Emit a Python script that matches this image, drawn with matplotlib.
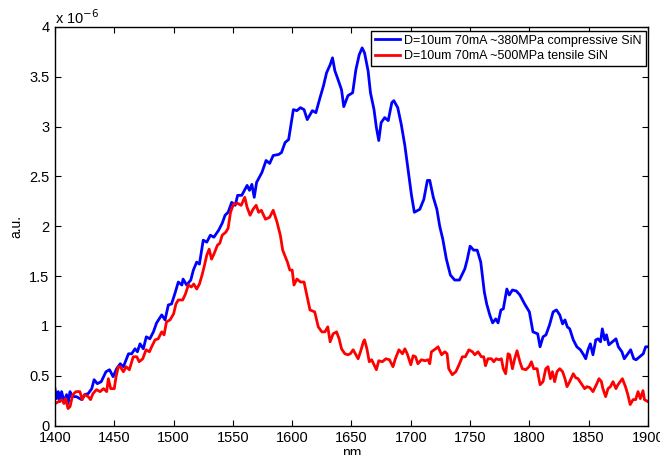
import matplotlib
matplotlib.use("Agg")
import matplotlib.pyplot as plt

plt.rcParams["font.family"] = ["Liberation Sans", "DejaVu Sans"]

# emission spectra, intensity in units of 1e-6 a.u.
wl_comp = [1400, 1401.4, 1402.8, 1404, 1405.6, 1407.6, 1409.8, 1411, 1412.7, 1414,
           1418, 1422.5, 1425, 1428, 1431, 1433, 1435.7, 1439, 1443, 1446,
           1449, 1452, 1455, 1457.7, 1462, 1464.7, 1467.5, 1469.5, 1471.7, 1474.5,
           1477, 1480, 1483, 1485.7, 1490, 1492.8, 1495.6, 1498.3, 1501, 1504,
           1507, 1508, 1511, 1514.5, 1516.7, 1519.5, 1521.8, 1525, 1528, 1531,
           1534, 1538, 1541, 1543.4, 1546, 1549, 1552, 1554, 1557.5, 1562,
           1564, 1566, 1568, 1570, 1574.5, 1578, 1581, 1584, 1588.6, 1591,
           1594, 1597, 1601, 1604, 1607, 1610, 1612.7, 1617, 1620, 1623,
           1626.4, 1629, 1632, 1634, 1636, 1639, 1641.6, 1643.5, 1647, 1651,
           1653.7, 1656.5, 1659, 1661, 1664, 1666, 1669, 1671, 1673, 1675,
           1678, 1681, 1684, 1685.7, 1689, 1692, 1695, 1698, 1700.6, 1703,
           1707.6, 1711, 1714, 1716, 1719, 1722, 1724.4, 1727, 1730, 1733.4,
           1737, 1741, 1745.5, 1747.5, 1750, 1753, 1756, 1759, 1762, 1764,
           1766.6, 1769, 1771.6, 1773.6, 1776, 1778, 1781, 1783, 1785.7, 1789,
           1792, 1796, 1800, 1803, 1807, 1809, 1811.5, 1814, 1817, 1820,
           1822.8, 1825.6, 1828, 1830, 1832, 1834, 1837, 1840, 1843, 1845.7,
           1847.5, 1849.4, 1851.4, 1853.6, 1856, 1858, 1860, 1861.5, 1863.5, 1865,
           1867, 1870, 1873, 1875, 1878, 1880, 1883, 1885.4, 1888, 1890,
           1893, 1896, 1898, 1900]
au_comp = [0.37, 0.27, 0.34, 0.24, 0.34, 0.24, 0.31, 0.22, 0.34, 0.29,
           0.29, 0.26, 0.31, 0.32, 0.37, 0.46, 0.42, 0.44, 0.54, 0.56,
           0.49, 0.57, 0.62, 0.59, 0.72, 0.72, 0.77, 0.74, 0.82, 0.77,
           0.89, 0.87, 0.94, 1.03, 1.11, 1.06, 1.21, 1.22, 1.32, 1.44,
           1.41, 1.47, 1.41, 1.46, 1.56, 1.64, 1.62, 1.86, 1.84, 1.91,
           1.89, 1.96, 2.03, 2.11, 2.14, 2.24, 2.21, 2.31, 2.31, 2.41,
           2.36, 2.42, 2.29, 2.44, 2.54, 2.66, 2.63, 2.71, 2.72, 2.74,
           2.84, 2.87, 3.17, 3.16, 3.19, 3.17, 3.07, 3.16, 3.14, 3.27,
           3.41, 3.54, 3.62, 3.69, 3.56, 3.46, 3.37, 3.20, 3.31, 3.34,
           3.57, 3.72, 3.79, 3.74, 3.56, 3.34, 3.17, 2.99, 2.86, 3.04,
           3.09, 3.06, 3.24, 3.26, 3.19, 3.02, 2.81, 2.54, 2.31, 2.14,
           2.17, 2.27, 2.46, 2.46, 2.29, 2.17, 2.00, 1.87, 1.67, 1.51,
           1.46, 1.46, 1.57, 1.66, 1.80, 1.76, 1.76, 1.64, 1.34, 1.22,
           1.11, 1.03, 1.07, 1.03, 1.16, 1.17, 1.37, 1.31, 1.36, 1.35,
           1.31, 1.22, 1.14, 0.94, 0.92, 0.79, 0.89, 0.91, 1.01, 1.14,
           1.16, 1.11, 1.02, 1.06, 0.99, 0.97, 0.86, 0.79, 0.76, 0.71,
           0.67, 0.76, 0.82, 0.71, 0.86, 0.87, 0.84, 0.97, 0.86, 0.91,
           0.81, 0.84, 0.87, 0.79, 0.74, 0.67, 0.72, 0.76, 0.67, 0.66,
           0.69, 0.72, 0.79, 0.79]

wl_tens = [1400, 1403, 1405.6, 1407.6, 1409, 1411, 1412.7, 1415, 1417.7, 1421,
           1423, 1425, 1428, 1430, 1432, 1435, 1438, 1441, 1443.6, 1445,
           1447, 1450, 1451.5, 1453.4, 1455, 1457.7, 1460, 1462.7, 1466, 1469,
           1471, 1474, 1476.8, 1479.6, 1481.5, 1484.4, 1487, 1490, 1492, 1494,
           1497, 1500, 1502, 1504, 1507.7, 1510, 1512.5, 1515, 1517, 1519.5,
           1521.8, 1524, 1525.7, 1528, 1530, 1532, 1534, 1537, 1539, 1541,
           1544, 1546, 1548, 1550.5, 1554, 1557, 1560, 1562, 1564.5, 1567,
           1569.6, 1571.7, 1574, 1577.5, 1581, 1584, 1587, 1590, 1592, 1596,
           1598, 1600, 1601.5, 1604, 1607, 1610, 1612.3, 1615, 1619, 1622,
           1625, 1627.6, 1630, 1632, 1634.5, 1637.4, 1639.6, 1641.6, 1644.4, 1647,
           1649, 1651.4, 1653.7, 1655.6, 1657.6, 1660, 1661, 1663, 1665, 1667,
           1669, 1671, 1673, 1676, 1679, 1682, 1685, 1687, 1690, 1693,
           1695, 1697, 1700, 1702, 1704, 1706, 1709, 1712, 1714.6, 1716,
           1717.4, 1721, 1723, 1726, 1728.7, 1730.6, 1732, 1735, 1738, 1740.7,
           1743.5, 1746, 1749, 1752, 1754, 1756.7, 1759.5, 1761.5, 1763, 1765,
           1768, 1770, 1772, 1774.4, 1776.4, 1778, 1780, 1782, 1783.4, 1785.7,
           1787.6, 1789.6, 1792, 1794, 1797, 1799.7, 1801.7, 1803.6, 1806.5, 1809,
           1811.5, 1813.8, 1815.7, 1817.7, 1819.4, 1821.3, 1823.3, 1825.6, 1828, 1830,
           1831.7, 1834, 1837, 1839, 1841, 1843.8, 1846.6, 1848.6, 1851, 1853.6,
           1856.5, 1858.7, 1860.7, 1862, 1864.3, 1866.3, 1868.3, 1870.5, 1873, 1874.7,
           1878.4, 1881, 1883, 1885, 1887.4, 1889.6, 1891.6, 1893.5, 1895.8, 1897,
           1900]
au_tens = [0.22, 0.24, 0.26, 0.22, 0.27, 0.17, 0.19, 0.31, 0.34, 0.34,
           0.26, 0.31, 0.29, 0.26, 0.32, 0.36, 0.34, 0.37, 0.34, 0.47,
           0.37, 0.37, 0.49, 0.59, 0.59, 0.54, 0.59, 0.56, 0.69, 0.69,
           0.64, 0.67, 0.76, 0.74, 0.79, 0.86, 0.87, 0.94, 0.91, 1.04,
           1.06, 1.12, 1.22, 1.26, 1.26, 1.32, 1.41, 1.39, 1.42, 1.37,
           1.42, 1.51, 1.59, 1.71, 1.77, 1.67, 1.72, 1.81, 1.83, 1.91,
           1.94, 1.98, 2.14, 2.22, 2.23, 2.21, 2.29, 2.19, 2.11, 2.17,
           2.21, 2.14, 2.16, 2.07, 2.09, 2.16, 2.05, 1.91, 1.76, 1.64,
           1.56, 1.56, 1.41, 1.47, 1.44, 1.44, 1.31, 1.16, 1.14, 0.99,
           0.94, 0.94, 0.99, 0.84, 0.92, 0.94, 0.87, 0.77, 0.72, 0.71,
           0.72, 0.76, 0.71, 0.67, 0.74, 0.84, 0.86, 0.77, 0.64, 0.66,
           0.61, 0.56, 0.65, 0.64, 0.67, 0.66, 0.59, 0.67, 0.76, 0.72,
           0.77, 0.72, 0.61, 0.70, 0.69, 0.62, 0.66, 0.65, 0.66, 0.62,
           0.74, 0.77, 0.79, 0.71, 0.74, 0.72, 0.57, 0.51, 0.54, 0.61,
           0.69, 0.69, 0.76, 0.74, 0.71, 0.74, 0.69, 0.69, 0.60, 0.67,
           0.67, 0.64, 0.67, 0.66, 0.67, 0.57, 0.52, 0.72, 0.71, 0.57,
           0.67, 0.75, 0.64, 0.57, 0.56, 0.59, 0.64, 0.57, 0.57, 0.41,
           0.44, 0.57, 0.59, 0.47, 0.54, 0.44, 0.54, 0.57, 0.54, 0.47,
           0.39, 0.44, 0.52, 0.48, 0.47, 0.42, 0.37, 0.39, 0.38, 0.34,
           0.41, 0.47, 0.44, 0.37, 0.29, 0.37, 0.39, 0.44, 0.37, 0.41,
           0.47, 0.39, 0.31, 0.21, 0.26, 0.26, 0.34, 0.27, 0.35, 0.26,
           0.24]

labels = ["D=10um 70mA ~380MPa compressive SiN",
          "D=10um 70mA ~500MPa tensile SiN"]
x_ticks = [1400, 1450, 1500, 1550, 1600, 1650, 1700, 1750, 1800, 1850, 1900]
y_ticks = [0, 0.5, 1, 1.5, 2, 2.5, 3, 3.5, 4]

fig = plt.figure(figsize=(6.6, 4.55), dpi=100)
ax = fig.add_axes([0.0833, 0.0648, 0.8985, 0.876])

ax.plot(wl_comp, au_comp, color="#0000ff", lw=2.0, label=labels[0])
ax.plot(wl_tens, au_tens, color="#ff0000", lw=2.0, label=labels[1])

ax.set_xlim(1400, 1900)
ax.set_ylim(0, 4)
ax.set_xticks(x_ticks)
ax.set_yticks(y_ticks)
ax.set_yticklabels(["%g" % v for v in y_ticks])
ax.tick_params(direction="in", top=True, right=True, length=4, width=0.8,
               labelsize=10.5, pad=4)
for sp in ax.spines.values():
    sp.set_linewidth(1.0)

ax.set_xlabel("nm", fontsize=10, labelpad=1)
ax.set_ylabel("a.u.", fontsize=10, labelpad=4)

# MATLAB-style exponent above the y axis
ax.text(0.0, 1.0, r"x 10$^{-6}$", transform=ax.transAxes, fontsize=10.5,
        ha="left", va="bottom")

leg = ax.legend(loc="upper right", bbox_to_anchor=(0.996, 0.99),
                borderaxespad=0, fancybox=False, framealpha=1,
                edgecolor="black", fontsize=9, handlelength=2.0,
                handletextpad=0.35, borderpad=0.3, labelspacing=0.3)
leg.get_frame().set_linewidth(1.0)

fig.savefig("out.png", dpi=100)
